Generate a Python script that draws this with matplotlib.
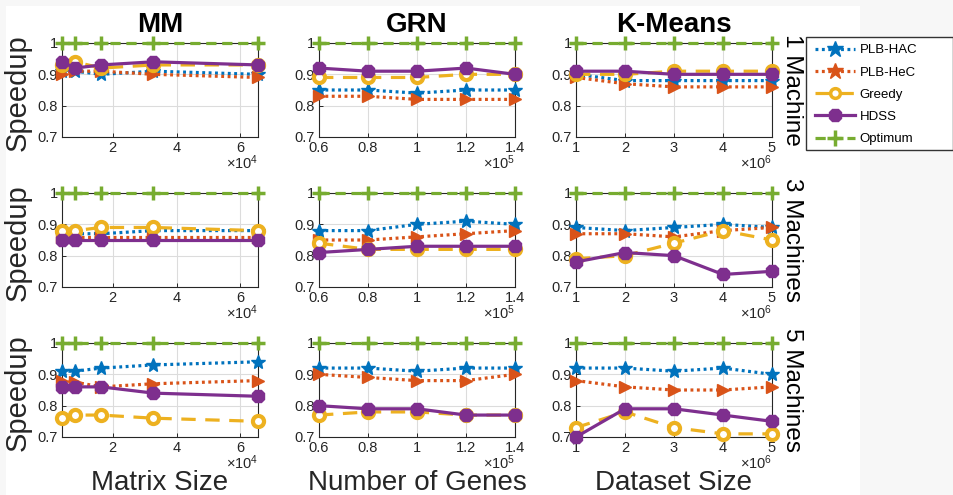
import matplotlib
matplotlib.use("Agg")
import matplotlib.pyplot as plt
from matplotlib.ticker import FuncFormatter
from matplotlib.lines import Line2D
from matplotlib.patches import Rectangle

plt.rcParams['font.family'] = ['Liberation Sans', 'DejaVu Sans']
plt.rcParams['mathtext.fontset'] = 'custom'
plt.rcParams['mathtext.rm'] = 'Liberation Sans'
plt.rcParams['mathtext.it'] = 'Liberation Sans'

# ---------------- data ----------------
mm_x = [4096, 8192, 16384, 32768, 65536]
grn_x = [60000, 80000, 100000, 120000, 140000]
km_x = [1e6, 2e6, 3e6, 4e6, 5e6]

col_titles = ["MM", "GRN", "K-Means"]
row_labels = ["1 Machine", "3 Machines", "5 Machines"]
x_labels = ["Matrix Size", "Number of Genes", "Dataset Size"]
series_names = ["PLB-HAC", "PLB-HeC", "Greedy", "HDSS", "Optimum"]

# row 1 (1 machine)
mm1_hac = [0.91, 0.91, 0.90, 0.91, 0.90]
mm1_hec = [0.90, 0.91, 0.91, 0.90, 0.89]
mm1_greedy = [0.93, 0.94, 0.92, 0.93, 0.93]
mm1_hdss = [0.94, 0.92, 0.93, 0.94, 0.93]
grn1_hac = [0.85, 0.85, 0.84, 0.85, 0.85]
grn1_hec = [0.83, 0.83, 0.82, 0.82, 0.82]
grn1_greedy = [0.89, 0.89, 0.89, 0.90, 0.90]
grn1_hdss = [0.92, 0.91, 0.91, 0.92, 0.90]
km1_hac = [0.90, 0.88, 0.88, 0.88, 0.88]
km1_hec = [0.89, 0.87, 0.86, 0.86, 0.86]
km1_greedy = [0.90, 0.90, 0.91, 0.91, 0.91]
km1_hdss = [0.91, 0.91, 0.90, 0.90, 0.90]

# row 2 (3 machines)
mm3_hac = [0.87, 0.87, 0.87, 0.88, 0.88]
mm3_hec = [0.86, 0.86, 0.86, 0.86, 0.86]
mm3_greedy = [0.88, 0.88, 0.89, 0.89, 0.88]
mm3_hdss = [0.85, 0.85, 0.85, 0.85, 0.85]
grn3_hac = [0.88, 0.88, 0.90, 0.91, 0.90]
grn3_hec = [0.85, 0.85, 0.86, 0.87, 0.88]
grn3_greedy = [0.84, 0.82, 0.82, 0.82, 0.82]
grn3_hdss = [0.81, 0.82, 0.83, 0.83, 0.83]
km3_hac = [0.89, 0.88, 0.89, 0.90, 0.89]
km3_hec = [0.87, 0.87, 0.86, 0.88, 0.89]
km3_greedy = [0.79, 0.80, 0.84, 0.88, 0.85]
km3_hdss = [0.78, 0.81, 0.80, 0.74, 0.75]

# row 3 (5 machines)
mm5_hac = [0.91, 0.91, 0.92, 0.93, 0.94]
mm5_hec = [0.88, 0.875, 0.86, 0.87, 0.88]
mm5_greedy = [0.76, 0.77, 0.77, 0.76, 0.75]
mm5_hdss = [0.86, 0.86, 0.86, 0.84, 0.83]
grn5_hac = [0.92, 0.92, 0.91, 0.92, 0.92]
grn5_hec = [0.90, 0.89, 0.88, 0.88, 0.90]
grn5_greedy = [0.77, 0.78, 0.78, 0.77, 0.77]
grn5_hdss = [0.80, 0.79, 0.79, 0.77, 0.77]
km5_hac = [0.92, 0.92, 0.91, 0.92, 0.90]
km5_hec = [0.88, 0.86, 0.85, 0.85, 0.86]
km5_greedy = [0.73, 0.78, 0.73, 0.71, 0.71]
km5_hdss = [0.70, 0.79, 0.79, 0.77, 0.75]

optimum = [1.0, 1.0, 1.0, 1.0, 1.0]

x_sets = [mm_x, grn_x, km_x]
x_scale = [1e4, 1e5, 1e6]
x_exp = [4, 5, 6]
x_ticks = [[20000, 40000, 60000], grn_x, km_x]
y_ticks = [0.7, 0.8, 0.9, 1.0]

grid_data = [
    [(mm1_hac, mm1_hec, mm1_greedy, mm1_hdss), (grn1_hac, grn1_hec, grn1_greedy, grn1_hdss), (km1_hac, km1_hec, km1_greedy, km1_hdss)],
    [(mm3_hac, mm3_hec, mm3_greedy, mm3_hdss), (grn3_hac, grn3_hec, grn3_greedy, grn3_hdss), (km3_hac, km3_hec, km3_greedy, km3_hdss)],
    [(mm5_hac, mm5_hec, mm5_greedy, mm5_hdss), (grn5_hac, grn5_hec, grn5_greedy, grn5_hdss), (km5_hac, km5_hec, km5_greedy, km5_hdss)],
]

# ---------------- style ----------------
C_BLUE = '#0072BD'
C_ORANGE = '#D95319'
C_YELLOW = '#EDB120'
C_PURPLE = '#7E2F8E'
C_GREEN = '#77AC30'
LW = 2.3
DOT = (0, (0.9, 1.1))
DASH = (0, (3.2, 1.8))
DASH_G = (0, (4.5, 3.0))

styles = [
    dict(color=C_BLUE, ls=DOT, marker='*', ms=10, mfc=C_BLUE, mec=C_BLUE),
    dict(color=C_ORANGE, ls=DOT, marker='>', ms=8, mfc=C_ORANGE, mec=C_ORANGE),
    dict(color=C_YELLOW, ls=DASH_G, marker='o', ms=8, mfc='white', mec=C_YELLOW, mew=3.0),
    dict(color=C_PURPLE, ls='-', marker='8', ms=10, mfc=C_PURPLE, mec=C_PURPLE),
    dict(color=C_GREEN, ls=DASH, marker='+', ms=10, mec=C_GREEN, mew=2.5),
]

W, H = 954, 495
fig = plt.figure(figsize=(W / 100, H / 100), dpi=100, facecolor='#f7f7f7')
fig.patches.append(Rectangle((6 / W, 0), (860 - 6) / W, (H - 6) / H,
                             transform=fig.transFigure, facecolor='white',
                             edgecolor='none', zorder=-10))

lefts = [62, 319, 576]
tops = [43, 193, 343]
aw, ah = 196, 94
TXT = '#262626'

for r in range(3):
    for c in range(3):
        ax = fig.add_axes([lefts[c] / W, 1 - (tops[r] + ah) / H, aw / W, ah / H])
        ax.set_facecolor('white')
        xs = x_sets[c]
        series = list(grid_data[r][c]) + [optimum]
        for s, st in zip(series, styles):
            ax.plot(xs, s, lw=LW, clip_on=False, zorder=3, **st)
        ax.set_xlim(xs[0], xs[-1])
        ax.set_ylim(0.7, 1.0)
        ax.set_yticks(y_ticks)
        ax.set_yticklabels(['0.7', '0.8', '0.9', '1'])
        ax.set_xticks(x_ticks[c])
        sc = x_scale[c]
        ax.xaxis.set_major_formatter(FuncFormatter(lambda v, p, sc=sc: f'{v / sc:g}'))
        ax.grid(True, color='#dcdcdc', lw=0.8)
        ax.set_axisbelow(True)
        ax.tick_params(direction='in', length=3, width=0.7, labelsize=10.5,
                       colors=TXT, pad=3)
        for sp in ax.spines.values():
            sp.set_color(TXT)
            sp.set_linewidth(0.8)
        ax.text(1.0, -0.34, r'$\times$10$^{%d}$' % x_exp[c], transform=ax.transAxes,
                ha='right', va='baseline', fontsize=10.5, color=TXT)
        if r == 0:
            ax.set_title(col_titles[c], fontsize=20, fontweight='bold', pad=8)
        if c == 0:
            fig.text(18 / W, 1 - (tops[r] + ah / 2 + 3) / H, 'Speedup', rotation=90,
                     ha='center', va='center', fontsize=21, color=TXT)
        if c == 2:
            fig.text(792 / W, 1 - (tops[r] + ah / 2) / H, row_labels[r], rotation=270,
                     ha='center', va='center', fontsize=17.5, color='black')

for c in range(3):
    fig.text((lefts[c] + aw / 2) / W, 5 / H, x_labels[c], ha='center', va='baseline',
             fontsize=20, color=TXT)

# legend frame (wider than the entries, as in the reference)
fig.patches.append(Rectangle((806 / W, 1 - 150 / H), (953 - 806) / W, (150 - 37) / H,
                             transform=fig.transFigure, facecolor='white',
                             edgecolor='#333333', lw=1.0, zorder=4))

handles = [
    Line2D([], [], color=C_BLUE, ls=DOT, lw=LW, marker='*', ms=12, mfc=C_BLUE, mec=C_BLUE),
    Line2D([], [], color=C_ORANGE, ls=DOT, lw=LW, marker='*', ms=12, mfc=C_ORANGE, mec=C_ORANGE),
    Line2D([], [], color=C_YELLOW, ls=DASH_G, lw=LW, marker='o', ms=7, mfc='white', mec=C_YELLOW, mew=2.5),
    Line2D([], [], color=C_PURPLE, ls='-', lw=LW, marker='8', ms=10, mfc=C_PURPLE, mec=C_PURPLE),
    Line2D([], [], color=C_GREEN, ls=DASH, lw=LW, marker='+', ms=11, mec=C_GREEN, mew=2.5),
]
leg = fig.legend(handles, series_names, loc='upper left',
                 bbox_to_anchor=(815 / W, 1 - 44 / H), fontsize=9.5,
                 handlelength=3.0, handletextpad=0.4, labelspacing=0.76,
                 borderpad=0, frameon=False, borderaxespad=0)
leg.set_zorder(6)

fig.savefig('out.png', dpi=100, facecolor=fig.get_facecolor())
